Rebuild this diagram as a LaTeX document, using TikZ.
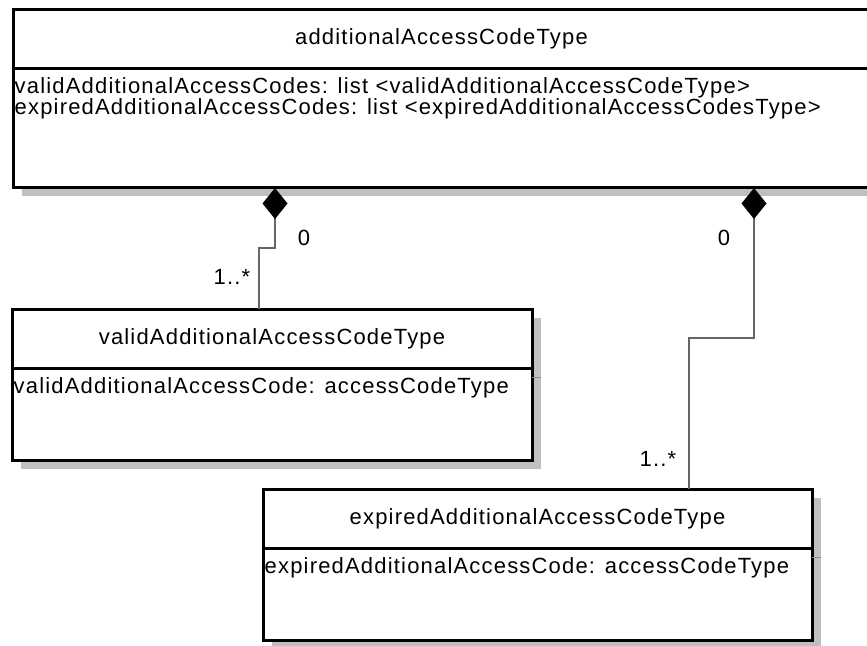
\documentclass[tikz,border=0pt]{standalone}
\usepackage{fontspec}
\setmainfont{Liberation Sans}[LetterSpace=5.4]
\usetikzlibrary{arrows.meta,shadows}

\newcommand{\umlfont}{\fontsize{22}{19}\selectfont}

\tikzset{
    umlclass/.style={draw, line width=3pt, fill=white, outer sep=0pt, inner sep=0pt, anchor=north west,
        drop shadow={shadow xshift=9pt, shadow yshift=-9pt, fill=black!25, opacity=1}},
    classtitle/.style={inner sep=0pt, font=\umlfont},
    classattr/.style={inner sep=0pt, anchor=base west, font=\umlfont},
    mult/.style={inner sep=0pt, font=\umlfont},
    seprule/.style={line width=3pt},
    sepshade/.style={line width=1pt, black!45},
    comp/.style={line width=1.8pt, draw=black!60,
        -{Diamond[length=31pt, width=25pt, fill=black, color=black]}}
}

\begin{document}
\begin{tikzpicture}[x=1pt, y=-1pt]
    % Parameters
    \def\headh{59}
    \clip (0,0) rectangle (867,645);

    % Classes
    \node[umlclass, minimum width=857pt, minimum height=178pt] (top) at (13,9) {};
    \node[umlclass, minimum width=520pt, minimum height=151pt] (valid) at (12,309) {};
    \node[umlclass, minimum width=549pt, minimum height=151pt] (expired) at (263,489) {};

    % Compartment rules
    \foreach \c in {top,valid,expired} {
        \draw[seprule] ([yshift=-\headh pt]\c.north west) -- ([yshift=-\headh pt]\c.north east);
    }
    \foreach \c in {valid,expired} {
        \draw[sepshade] ([yshift=-68pt]\c.north east) -- ++(9,0);
    }

    % Names and attributes
    \node[classtitle] (toptitle) at ([yshift=-29.5pt]top.north) {additionalAccessCodeType};
    \node[classattr] (topattra) at ([xshift=1.5pt,yshift=-84pt]top.north west)
        {validAdditionalAccessCodes: list <validAdditionalAccessCodeType>};
    \node[classattr] (topattrb) at ([yshift=-21pt]topattra.base west)
        {expiredAdditionalAccessCodes: list <expiredAdditionalAccessCodesType>};

    \node[classtitle] (validtitle) at ([yshift=-29.5pt]valid.north) {validAdditionalAccessCodeType};
    \node[classattr] (validattr) at ([xshift=1.5pt,yshift=-84pt]valid.north west)
        {validAdditionalAccessCode: accessCodeType};

    \node[classtitle] (expiredtitle) at ([yshift=-29.5pt]expired.north) {expiredAdditionalAccessCodeType};
    \node[classattr] (expiredattr) at ([xshift=1.5pt,yshift=-84pt]expired.north west)
        {expiredAdditionalAccessCode: accessCodeType};

    % Compositions
    \coordinate (validend) at ([xshift=262pt,yshift=-1pt]top.south west);
    \coordinate (expiredend) at ([xshift=741pt,yshift=-1pt]top.south west);
    \draw[comp] ([xshift=-13pt]valid.north) |- ([yshift=-60pt]validend) -- (validend);
    \draw[comp] ([xshift=151.5pt]expired.north) |- ([yshift=-150pt]expiredend) -- (expiredend);

    % Multiplicities
    \node[mult] (validsrc) at (232,277) {1..*};
    \node[mult] (validtgt) at (304,238) {0};
    \node[mult] (expiredsrc) at (658,459) {1..*};
    \node[mult] (expiredtgt) at (724,238) {0};
\end{tikzpicture}
\end{document}
